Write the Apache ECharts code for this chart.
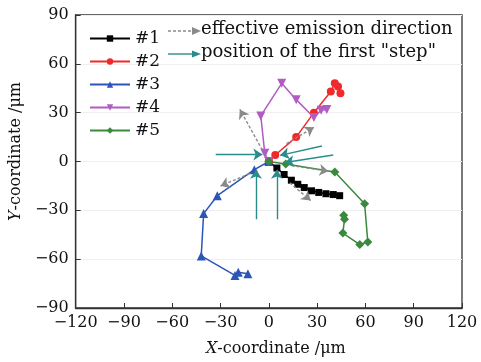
<!DOCTYPE html>
<html>
<head>
<meta charset="utf-8">
<script src="https://cdn.jsdelivr.net/npm/echarts@6/dist/echarts.min.js"></script>
<style>
  html, body { margin: 0; padding: 0; background: #fff; }
  #chart { width: 481px; height: 362px; }
</style>
</head>
<body>
<div id="chart"></div>
<script>
// Trajectories of the five emission points, [x, y] in µm
const track1 = [[0, 0], [5, -4], [9.5, -8], [14, -11.5], [18, -14], [22, -16], [26.5, -18], [31, -19], [35.5, -19.8], [40, -20.3], [44, -21]];
const track2 = [[0, 0], [4, 4], [17, 15], [28, 30], [38.5, 43], [41, 48], [43, 46], [44.5, 42]];
const track3 = [[0, 0], [-9, -5], [-32, -21], [-40.5, -32], [-42, -58], [-21, -70], [-19, -68], [-13, -69]];
const track4 = [[0, 0], [-2.5, 5], [-5, 28], [8, 48], [17, 38], [28, 27], [32.5, 31.5], [36, 32]];
const track5 = [[0, 0], [10.5, -1.5], [41, -6.5], [59.5, -26], [61.5, -49.5], [56.5, -51], [46, -44], [47, -35.5], [46.5, -33]];

const seriesNames = ['#1', '#2', '#3', '#4', '#5'];

// Effective emission direction arrows (start, end)
const emissionArrows = [
  [[-4, 7], [-18, 32]],
  [[11, 11], [28, 21]],
  [[14, -2.5], [37, -6]],
  [[13, -13], [26, -24]],
  [[-12, -7.5], [-30, -15]]
];

// Arrows marking where the first "step" happens (start, end)
const firstStepArrows = [
  [[-33, 4.3], [-4, 4.3]],
  [[33, 9.5], [7, 3.8]],
  [[40, 4], [10, -0.6]],
  [[-8, -35.5], [-8, -5]],
  [[5, -35.5], [5, -5]]
];

const xTicks = { min: -120, max: 120, step: 30 };
const yTicks = { min: -90, max: 90, step: 30 };

const FONT = 'DejaVu Serif';
const minus = v => String(v).replace('-', '\u2212');

const lineSeries = (name, data, color, symbol, size, rotate) => ({
  name, type: 'line', data, color,
  symbol, symbolSize: size, symbolRotate: rotate || 0,
  showSymbol: true,
  lineStyle: { width: 1.5, color },
  itemStyle: { color },
  z: 3, animation: false
});

const arrowSeries = (data, color, dashed) => ({
  type: 'lines',
  coordinateSystem: 'cartesian2d',
  data: data.map(c => ({ coords: c })),
  symbol: ['none', 'arrow'],
  symbolSize: 9,
  lineStyle: { color, width: 1.4, type: dashed ? [3, 2] : 'solid', opacity: 1 },
  z: 4, animation: false, silent: true
});

const axisCommon = {
  axisLine: { onZero: false, lineStyle: { color: '#333', width: 1.3 } },
  axisTick: { inside: true, length: 5, lineStyle: { color: '#333' } },
  axisLabel: { fontFamily: FONT, fontSize: 16, color: '#111', margin: 7, formatter: minus }
};

const chart = echarts.init(document.getElementById('chart'));

chart.setOption({
  backgroundColor: '#fff',
  textStyle: { fontFamily: FONT },
  grid: { left: 64, right: 19, top: 15, bottom: 53, show: true, borderColor: '#333', borderWidth: 1.3 },
  xAxis: Object.assign({
    type: 'value', min: xTicks.min, max: xTicks.max, interval: xTicks.step,
    name: '{i|X}-coordinate /\u03bcm',
    nameLocation: 'middle', nameGap: 33,
    nameTextStyle: { fontFamily: FONT, fontSize: 16, color: '#111', padding: [0, 0, 0, 14],
      rich: { i: { fontFamily: FONT, fontStyle: 'italic', fontSize: 16, color: '#111' } } },
    splitLine: { show: false }
  }, axisCommon),
  yAxis: Object.assign({
    type: 'value', min: yTicks.min, max: yTicks.max, interval: yTicks.step,
    name: '{i|Y}-coordinate /\u03bcm',
    nameLocation: 'middle', nameGap: 41,
    nameTextStyle: { fontFamily: FONT, fontSize: 16, color: '#111', padding: [0, 0, 0, 20],
      rich: { i: { fontFamily: FONT, fontStyle: 'italic', fontSize: 16, color: '#111' } } },
    splitLine: { show: true, lineStyle: { color: '#efefef', width: 1 } }
  }, axisCommon),
  legend: {
    data: seriesNames,
    orient: 'vertical', left: 89, top: 30, padding: 0,
    itemWidth: 40, itemHeight: 8, itemGap: 6,
    textStyle: { fontFamily: FONT, fontSize: 17, color: '#111' }
  },
  series: [
    arrowSeries(emissionArrows, '#8a8a8a', true),
    arrowSeries(firstStepArrows, '#2b8c8c', false),
    lineSeries(seriesNames[0], track1, '#000000', 'rect', 7),
    lineSeries(seriesNames[1], track2, '#f02a2a', 'circle', 8),
    lineSeries(seriesNames[2], track3, '#2d55b8', 'triangle', 9),
    lineSeries(seriesNames[3], track4, '#b05cc4', 'triangle', 9, 180),
    lineSeries(seriesNames[4], track5, '#3a8a3e', 'diamond', 9)
  ],
  graphic: [
    // key for the two arrow types
    { type: 'line', shape: { x1: 168, y1: 31, x2: 193, y2: 31 },
      style: { stroke: '#8a8a8a', lineWidth: 1.4, lineDash: [3, 2] } },
    { type: 'polygon', shape: { points: [[192, 27], [201, 31], [192, 35]] },
      style: { fill: '#8a8a8a' } },
    { type: 'text', left: 201, top: 20,
      style: { text: 'effective emission direction', font: '18px "DejaVu Serif"', fill: '#111' } },
    { type: 'line', shape: { x1: 168, y1: 54, x2: 193, y2: 54 },
      style: { stroke: '#2b8c8c', lineWidth: 1.4 } },
    { type: 'polygon', shape: { points: [[192, 50.5], [201, 54], [192, 57.5]] },
      style: { fill: '#2b8c8c' } },
    { type: 'text', left: 201, top: 43,
      style: { text: 'position of the first "step"', font: '18px "DejaVu Serif"', fill: '#111' } }
  ]
});
</script>
</body>
</html>
